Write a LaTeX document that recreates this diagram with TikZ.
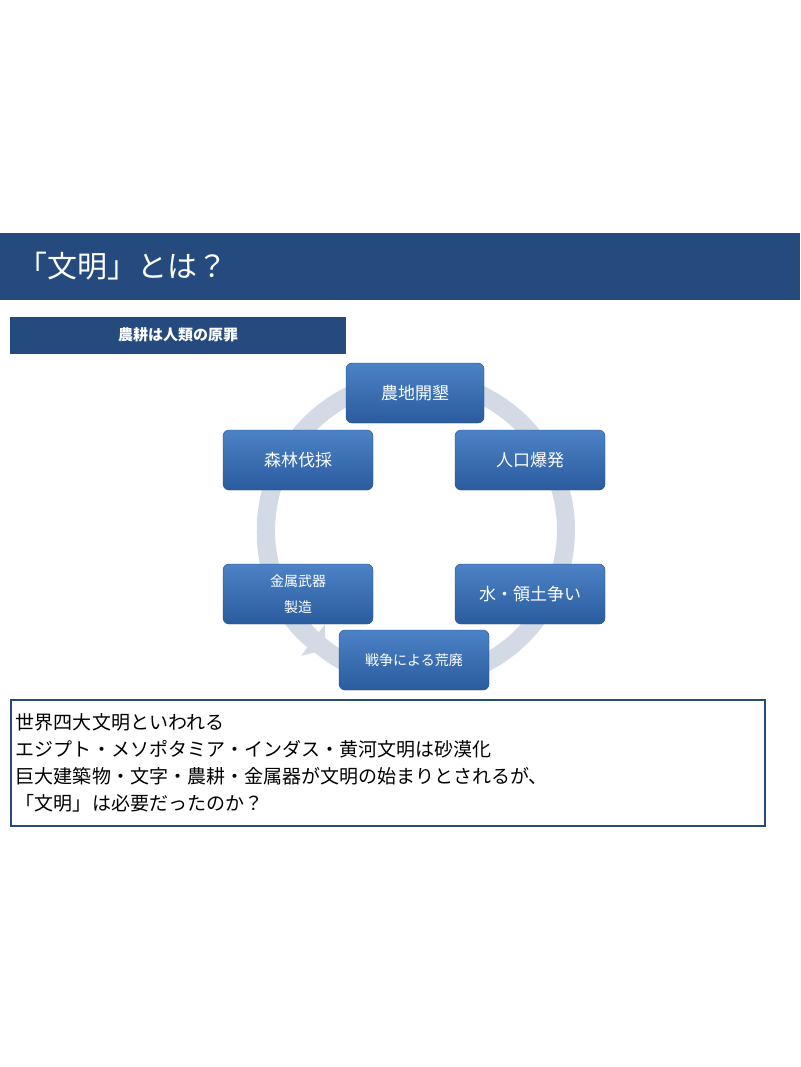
\documentclass[tikz,border=0pt]{standalone}
\usepackage{fontspec}
\setmainfont{Noto Sans CJK JP}
\usetikzlibrary{arrows.meta}
\definecolor{barblue}{HTML}{244A7E}
\definecolor{boxtop}{HTML}{4C82C6}
\definecolor{boxbot}{HTML}{2A5C9E}
\definecolor{ringgray}{HTML}{D3DAE6}
\begin{document}
\begin{tikzpicture}[
    x=1pt, y=-1pt,
    step box/.style={rectangle,rounded corners=6pt,top color=boxtop,bottom color=boxbot,draw=boxbot!80!black,
        text=white,minimum width=150pt,minimum height=60pt,align=center,font=\fontsize{17}{20}\selectfont},
    bar/.style={fill=barblue,draw=none}
]
\useasboundingbox (0,0) rectangle (800,1067);
\fill[white] (0,0) rectangle (800,1067);

% Title
\fill[bar] (0,233) rectangle (800,300);
\node[anchor=west,text=white,font=\fontsize{30}{34}\selectfont] (title) at (14,266) {「文明」とは？};

% Subtitle
\fill[bar] (10,317) rectangle (346,354);
\node[text=white,font=\bfseries\fontsize{15}{18}\selectfont] (sub) at (178,335) {農耕は人類の原罪};

% Cycle ring
\coordinate (c) at (416,530);
\draw[ringgray,line width=18pt] (c) circle[radius=150];
\draw[ringgray,line width=18pt,-{Triangle[width=38pt,length=16pt]}] (c) ++(200:150) arc[start angle=200,end angle=127,radius=150];

% Steps
\node[step box,minimum width=138pt] (farm) at (415,393) {農地開墾};
\node[step box] (people) at (530,460) {人口爆発};
\node[step box] (water) at (530,594) {水・領土争い};
\node[step box,font=\fontsize{14}{16}\selectfont] (war) at (414,660) {戦争による荒廃};
\node[step box,font=\fontsize{14}{26}\selectfont] (metal) at (298,594) {金属武器\\製造};
\node[step box] (forest) at (298,460) {森林伐採};

% Text box
\node[draw=barblue,line width=2pt,fill=white,anchor=north west,minimum width=754pt,minimum height=126pt,
    text width=744pt,align=left,inner sep=4pt,font=\fontsize{19}{27}\selectfont] (note) at (10,699)
    {世界四大文明といわれる\\エジプト・メソポタミア・インダス・黄河文明は砂漠化\\巨大建築物・文字・農耕・金属器が文明の始まりとされるが、\\「文明」は必要だったのか？\par\vfill};
\end{tikzpicture}
\end{document}
